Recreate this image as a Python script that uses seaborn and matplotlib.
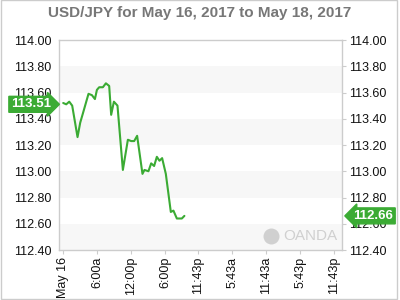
import matplotlib
matplotlib.use("Agg")
import matplotlib.pyplot as plt
import seaborn as sns
import pandas as pd
from matplotlib.patches import Rectangle

# ---- data ----
hours = [0.0, 0.53, 1.06, 1.58, 2.52, 2.99, 3.46, 4.45, 5.05, 5.58, 5.93, 6.33,
         6.98, 7.51, 8.09, 8.44, 8.92, 9.55, 10.5, 11.38, 11.96, 12.49, 13.01,
         13.95, 14.30, 15.0, 15.48, 16.0, 16.48, 16.94, 17.41, 18.06, 18.94,
         19.40, 20.0, 20.88, 21.33]
rates = [113.52, 113.51, 113.53, 113.50, 113.26, 113.37, 113.44, 113.59, 113.58,
         113.55, 113.62, 113.64, 113.64, 113.67, 113.65, 113.43, 113.53, 113.50,
         113.01, 113.24, 113.23, 113.23, 113.27, 112.98, 113.01, 113.00, 113.06,
         113.04, 113.11, 113.08, 113.10, 112.98, 112.69, 112.70, 112.64, 112.64,
         112.66]
open_label = 113.51
close_label = 112.66
tick_hours = [0, 6, 12, 18, 23.717, 29.717, 35.717, 41.717, 47.717]
tick_labels = ["May 16", "6:00a", "12:00p", "6:00p", "11:43p", "5:43a",
               "11:43a", "5:43p", "11:43p"]
y_ticks = [112.40, 112.60, 112.80, 113.00, 113.20, 113.40, 113.60, 113.80, 114.00]
title = "USD/JPY for May 16, 2017 to May 18, 2017"

df = pd.DataFrame({"hour": hours, "rate": rates})

sns.set_style("white")
plt.rcParams["font.family"] = ["Liberation Sans", "DejaVu Sans"]

GREEN = "#3bab34"
W, H = 400, 300
fig = plt.figure(figsize=(4, 3), dpi=100)
L, R, T, B = 58.5, 342, 40, 250
ax = fig.add_axes([L / W, (H - B) / H, (R - L) / W, (B - T) / H])

# alternating bands
for i, yv in enumerate(y_ticks[:-1]):
    if i % 2 == 0:
        ax.axhspan(yv, y_ticks[i + 1], color="#f7f7f7", zorder=0, lw=0)

sns.lineplot(data=df, x="hour", y="rate", ax=ax, color=GREEN, linewidth=1.5, zorder=3)

ax.set_xlim(-0.83, 49.07)
ax.set_ylim(112.40, 114.00)
ax.set_xticks(tick_hours)
ax.set_xticklabels(tick_labels, rotation=90)
ax.set_yticks(y_ticks)
ax.set_yticklabels([f"{v:.2f}" for v in y_ticks])
ax.set_xlabel("")
ax.set_ylabel("")
ax.tick_params(axis="y", left=False, right=True, labelleft=True, labelright=True,
               length=3, color="#cccccc", labelsize=9, pad=2, labelcolor="#111111")
ax.tick_params(axis="x", bottom=True, length=3, color="#cccccc", labelsize=9,
               pad=2, labelcolor="#111111")
for s in ax.spines.values():
    s.set_color("#cccccc")
    s.set_linewidth(1.0)

# watermark
ax.text(0.985, 0.065, "OANDA", transform=ax.transAxes, ha="right", va="center",
        fontsize=11, color="#d0d0d0", family=["Liberation Sans"], zorder=1)
ax.scatter([0.75], [0.065], transform=ax.transAxes, s=110, color="#d0d0d0",
           zorder=1, clip_on=False)

# price tags
ax.text(-0.027, open_label, f"{open_label:.2f}", transform=ax.get_yaxis_transform(),
        ha="right", va="center", fontsize=9.5, fontweight="bold", color="white",
        bbox=dict(boxstyle="rarrow,pad=0.15", fc=GREEN, ec=GREEN), zorder=5, clip_on=False)
ax.text(1.04, close_label, f"{close_label:.2f}", transform=ax.get_yaxis_transform(),
        ha="left", va="center", fontsize=9.5, fontweight="bold", color="white",
        bbox=dict(boxstyle="larrow,pad=0.15", fc=GREEN, ec=GREEN), zorder=5, clip_on=False)

fig.text(0.5, 1 - 12.5 / H, title, ha="center", va="center", fontsize=11,
         fontweight="bold", color="#777777")

# figure border
fig.add_artist(Rectangle((0.5 / W, 1.5 / H), 396.5 / W, 0.999 - 1.5 / H,
                         transform=fig.transFigure, fill=False, ec="#cccccc", lw=1))

fig.savefig("out.png", dpi=100)
